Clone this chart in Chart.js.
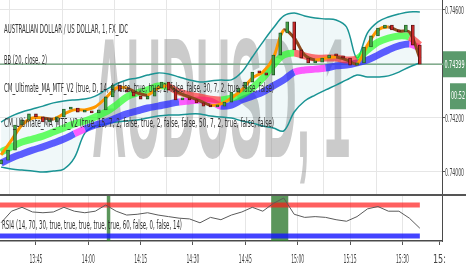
<!DOCTYPE html>
<html>
<head>
<meta charset="utf-8">
<script src="https://cdn.jsdelivr.net/npm/chart.js@4.4.0/dist/chart.umd.min.js"></script>
<style>
    html, body { margin: 0; padding: 0; background: #fff; overflow: hidden; }
    #wrap { position: relative; width: 466px; height: 275px; }
    #mainBox { position: absolute; left: 0; top: 0; width: 466px; height: 194px; }
    #rsiBox { position: absolute; left: 0; top: 194px; width: 466px; height: 81px; }
</style>
</head>
<body>
<div id="wrap">
    <div id="mainBox"><canvas id="mainCanvas"></canvas></div>
    <div id="rsiBox"><canvas id="rsiCanvas"></canvas></div>
</div>
<script>
// Time grid, minutes after 13:00
const bandMinutes = [35, 38, 41, 44, 47, 50, 53, 56, 59, 62, 65, 68, 71, 74, 77, 80, 83, 86, 89, 92,
    95, 98, 101, 104, 107, 110, 113, 116, 119, 122, 125, 128, 131, 134, 137, 140, 143, 146, 149, 152, 155];
const candleMinutes = [35, 37, 39, 41, 43, 45, 47, 49, 51, 53, 55, 57, 59, 61, 63, 65, 67, 69, 71, 73,
    75, 77, 79, 81, 83, 85, 87, 89, 91, 93, 95, 97, 99, 101, 103, 105, 107, 109, 111, 113,
    115, 117, 119, 121, 123, 125, 127, 129, 131, 133, 135, 137, 139, 141, 143, 145, 147, 149, 151, 153, 155];

// Bollinger bands (20, close, 2)
const bbUpper = [0.74185, 0.74207, 0.74222, 0.74233, 0.74244, 0.74256, 0.74263, 0.74267, 0.74270, 0.74281,
    0.74304, 0.74326, 0.74341, 0.74348, 0.74359, 0.74367, 0.74363, 0.74352, 0.74341, 0.74333,
    0.74337, 0.74341, 0.74341, 0.74370, 0.74426, 0.74481, 0.74533, 0.74578, 0.74589, 0.74578,
    0.74570, 0.74567, 0.74563, 0.74537, 0.74422, 0.74515, 0.74556, 0.74574, 0.74585, 0.74593, 0.74593];
const bbLower = [0.74018, 0.74011, 0.74007, 0.74004, 0.74000, 0.74004, 0.74011, 0.74052, 0.74144, 0.74170,
    0.74178, 0.74185, 0.74189, 0.74193, 0.74200, 0.74207, 0.74211, 0.74211, 0.74215, 0.74215,
    0.74207, 0.74204, 0.74200, 0.74189, 0.74181, 0.74170, 0.74163, 0.74152, 0.74222, 0.74263,
    0.74285, 0.74304, 0.74322, 0.74341, 0.74359, 0.74352, 0.74352, 0.74356, 0.74370, 0.74389, 0.74404];

// Moving averages
const slowMa = [0.74033, 0.74052, 0.74067, 0.74081, 0.74093, 0.74107, 0.74122, 0.74141, 0.74159, 0.74174,
    0.74185, 0.74200, 0.74215, 0.74226, 0.74237, 0.74244, 0.74252, 0.74259, 0.74263, 0.74267,
    0.74263, 0.74244, 0.74248, 0.74267, 0.74281, 0.74296, 0.74319, 0.74341, 0.74370, 0.74378,
    0.74381, 0.74385, 0.74393, 0.74396, 0.74404, 0.74415, 0.74433, 0.74452, 0.74467, 0.74474, 0.74459];
const midMa = [0.74074, 0.74093, 0.74111, 0.74122, 0.74133, 0.74148, 0.74163, 0.74178, 0.74189, 0.74204,
    0.74222, 0.74248, 0.74278, 0.74293, 0.74304, 0.74319, 0.74315, 0.74296, 0.74285, 0.74278,
    0.74270, 0.74267, 0.74274, 0.74285, 0.74311, 0.74348, 0.74396, 0.74433, 0.74441, 0.74430,
    0.74422, 0.74422, 0.74422, 0.74415, 0.74419, 0.74452, 0.74481, 0.74496, 0.74504, 0.74500, 0.74470];
const fastMa = [0.74063, 0.74118, 0.74174, 0.74200, 0.74200, 0.74196, 0.74215, 0.74230, 0.74230, 0.74241,
    0.74274, 0.74311, 0.74311, 0.74293, 0.74285, 0.74311, 0.74319, 0.74293, 0.74278, 0.74263,
    0.74248, 0.74252, 0.74274, 0.74304, 0.74348, 0.74370, 0.74422, 0.74526, 0.74496, 0.74433,
    0.74415, 0.74422, 0.74426, 0.74415, 0.74400, 0.74470, 0.74526, 0.74537, 0.74522, 0.74519, 0.74422];

// Candle closes (open = previous close)
const openingPrice = 0.74030;
const closes = [0.74044, 0.74081, 0.74174, 0.74193, 0.74215, 0.74204, 0.74185, 0.74185, 0.74204, 0.74233,
    0.74237, 0.74222, 0.74222, 0.74219, 0.74230, 0.74278, 0.74322, 0.74300, 0.74296, 0.74281,
    0.74270, 0.74281, 0.74311, 0.74333, 0.74304, 0.74267, 0.74270, 0.74267, 0.74256, 0.74244,
    0.74241, 0.74244, 0.74259, 0.74296, 0.74311, 0.74333, 0.74370, 0.74367, 0.74359, 0.74433,
    0.74515, 0.74556, 0.74452, 0.74422, 0.74404, 0.74407, 0.74422, 0.74433, 0.74430, 0.74422,
    0.74396, 0.74404, 0.74463, 0.74504, 0.74533, 0.74544, 0.74526, 0.74519, 0.74544, 0.74470, 0.74399];
const lastPrice = 0.74399;
const countdown = "00:52";

// RSI pane
const rsiValues = [47, 62, 67, 61, 60, 61, 67, 62, 60, 62, 70, 62, 57, 58, 60, 57, 55, 53, 52, 47,
    54, 51, 57, 61, 67, 62, 72, 79, 58, 54, 55, 54, 51, 49, 55, 65, 68, 62, 62, 53, 40];
const rsiUpper = 70;
const rsiLower = 30;
const rsiHighlights = [[65.3, 66.3], [112.4, 117.3]];

// Colour change periods of the two slow MAs (minutes)
const midMaDownSpans = [[83, 98], [118, 137], [151, 156]];
const slowMaAltSpans = [[56, 59], [86, 98], [117, 127], [151, 156]];

// Axes
const priceTicks = [0.740, 0.742, 0.744, 0.746];
const xTickMinutes = [45, 60, 75, 90, 105, 120, 135, 150, 160.6];
const xTickLabels = ["13:45", "14:00", "14:15", "14:30", "14:45", "15:00", "15:15", "15:30", "15:"];

const X_MIN = 34.7;
const X_MAX = 161.35;
const NARROW = "'Liberation Sans Narrow', 'DejaVu Sans Condensed', 'Liberation Sans', sans-serif";

function points(xs, ys) {
    return xs.map((x, i) => ({ x: x, y: ys[i] }));
}

function inSpans(spans, m) {
    return spans.some(s => m >= s[0] && m < s[1]);
}

/**
 * @brief Watermark, price line, legend texts and the price scale labels.
 */
const mainDecor = {
    id: "mainDecor",
    beforeDatasetsDraw(chart) {
        const { ctx, chartArea, scales } = chart;
        ctx.save();
        ctx.fillStyle = "rgba(130,130,130,0.42)";
        ctx.font = "bold 60px 'Liberation Sans', sans-serif";
        ctx.textBaseline = "alphabetic";
        ctx.translate(92, 157);
        ctx.scale(1, 2.85);
        ctx.fillText("AUDUSD, 1", 0, 0, 258);
        ctx.restore();

        const y = scales.y.getPixelForValue(lastPrice);
        ctx.save();
        ctx.strokeStyle = "#82ad8e";
        ctx.lineWidth = 1.5;
        ctx.beginPath();
        ctx.moveTo(chartArea.left, y);
        ctx.lineTo(chart.width, y);
        ctx.stroke();
        ctx.restore();
    },
    afterDraw(chart) {
        const { ctx, scales } = chart;
        ctx.save();
        ctx.textBaseline = "middle";
        ctx.fillStyle = "#333";
        ctx.font = "12px " + NARROW;
        ctx.fillText("AUSTRALIAN DOLLAR / US DOLLAR, 1, FX_IDC", 4, 30, 124);
        ctx.fillText("BB (20, close, 2)", 4, 61, 43);
        ctx.fillText("CM_Ultimate_MA_MTF_V2 (true, D, 14, 4, false, true, true, 2, false, false, 30, 7, 2, true, false, false)", 4, 89, 270);
        ctx.fillText("CM_Ultimate_MA_MTF_V2 (true, 15, 7, 2, false, true, 2, false, false, 50, 7, 2, true, false, false)", 4, 124, 270);

        // price scale labels
        ctx.fillStyle = "#444";
        ctx.font = "11px " + NARROW;
        scales.y.ticks.forEach(t => {
            const y = scales.y.getPixelForValue(t.value);
            ctx.fillText(t.value.toFixed(5), 445, y + 1, 19);
        });

        // last price and countdown boxes
        const py = scales.y.getPixelForValue(lastPrice);
        ctx.fillStyle = "#5b9a6c";
        ctx.fillRect(443, py - 13, 23, 26);
        ctx.fillRect(450, py + 19, 16, 26);
        ctx.fillStyle = "#fff";
        ctx.textAlign = "center";
        ctx.fillText(lastPrice.toFixed(5), 454.5, py + 1, 20);
        ctx.fillText(countdown, 458, py + 32, 14);
        ctx.restore();
    }
};

/**
 * @brief Highlight boxes, pane divider, time labels and RSI legend.
 */
const rsiDecor = {
    id: "rsiDecor",
    beforeDatasetsDraw(chart) {
        const { ctx, chartArea, scales } = chart;
        ctx.save();
        ctx.fillStyle = "rgba(45,120,45,0.78)";
        rsiHighlights.forEach(h => {
            const x0 = scales.x.getPixelForValue(h[0]);
            const x1 = scales.x.getPixelForValue(h[1]);
            ctx.fillRect(x0, chartArea.top, x1 - x0, chartArea.bottom - chartArea.top);
        });
        ctx.restore();
    },
    afterDraw(chart) {
        const { ctx, scales } = chart;
        ctx.save();
        ctx.fillStyle = "#555";
        ctx.fillRect(0, 0, chart.width, 2);

        ctx.fillStyle = "#444";
        ctx.font = "12px " + NARROW;
        ctx.textAlign = "center";
        ctx.textBaseline = "middle";
        scales.x.ticks.forEach((t, i) => {
            ctx.fillText(xTickLabels[i], scales.x.getPixelForValue(t.value), 66, 13);
        });

        ctx.textAlign = "left";
        ctx.fillStyle = "#333";
        ctx.fillText("RSI4 (14, 70, 30, true, true, true, true, true, 60, false, 0, false, 14)", 2, 32, 180);
        ctx.restore();
    }
};

function gridColor(c) {
    return c.tick && c.tick.value > 155 ? "rgba(0,0,0,0)" : "#e6e6e6";
}

const candleData = candleMinutes.map((m, i) => ({
    x: m,
    y: [i ? closes[i - 1] : openingPrice, closes[i]]
}));

function candleColor(up, down) {
    return c => {
        const r = c.raw;
        if (!r) return down;
        return r.y[1] >= r.y[0] ? up : down;
    };
}

const mainChart = new Chart(document.getElementById("mainCanvas").getContext("2d"), {
    type: "line",
    data: {
        datasets: [
            {
                type: "bar",
                data: candleData,
                backgroundColor: candleColor("#43a047", "#c62828"),
                borderColor: candleColor("#1e4d20", "#4a1010"),
                borderWidth: 0.8,
                borderSkipped: false,
                barThickness: 3,
                minBarLength: 2,
                order: 0
            },
            {
                data: points(bandMinutes, fastMa),
                borderWidth: 3,
                borderColor: "#ff9800",
                segment: {
                    borderColor: c => c.p1.parsed.y < c.p0.parsed.y ? "#8e4a1e" : "#ff9800"
                },
                pointRadius: 0,
                tension: 0.3,
                order: 1
            },
            {
                data: points(bandMinutes, midMa),
                borderWidth: 7,
                borderColor: "rgba(40,255,40,0.7)",
                segment: {
                    borderColor: c => inSpans(midMaDownSpans, c.p0.parsed.x) ? "rgba(255,40,40,0.65)" : "rgba(40,255,40,0.7)"
                },
                pointRadius: 0,
                tension: 0.35,
                order: 2
            },
            {
                data: points(bandMinutes, slowMa),
                borderWidth: 7,
                borderColor: "rgba(40,40,255,0.75)",
                segment: {
                    borderColor: c => inSpans(slowMaAltSpans, c.p0.parsed.x) ? "rgba(255,40,255,0.75)" : "rgba(40,40,255,0.75)"
                },
                pointRadius: 0,
                tension: 0.35,
                order: 3
            },
            {
                data: points(bandMinutes, bbUpper),
                borderWidth: 1.5,
                borderColor: "#1a9494",
                backgroundColor: "rgba(0,140,160,0.06)",
                fill: "+1",
                pointRadius: 0,
                tension: 0.35,
                order: 4
            },
            {
                data: points(bandMinutes, bbLower),
                borderWidth: 1.5,
                borderColor: "#1a9494",
                pointRadius: 0,
                tension: 0.35,
                order: 5
            }
        ]
    },
    options: {
        animation: false,
        responsive: true,
        maintainAspectRatio: false,
        layout: { padding: 0 },
        plugins: {
            legend: { display: false },
            tooltip: { enabled: false }
        },
        scales: {
            x: {
                type: "linear",
                min: X_MIN,
                max: X_MAX,
                offset: false,
                afterBuildTicks: s => { s.ticks = xTickMinutes.map(v => ({ value: v })); },
                afterFit: s => { s.height = 0; },
                grid: { color: gridColor, drawTicks: false },
                border: { display: false },
                ticks: { display: false }
            },
            y: {
                position: "right",
                min: 0.739185,
                max: 0.74637,
                afterBuildTicks: s => { s.ticks = priceTicks.map(v => ({ value: v })); },
                afterFit: s => { s.width = 24; },
                grid: { color: "#e6e6e6", drawTicks: true, tickLength: 3, tickColor: "#555" },
                border: { display: true, color: "#4a4a4a", width: 1 },
                ticks: { display: false }
            }
        }
    },
    plugins: [mainDecor]
});

const rsiChart = new Chart(document.getElementById("rsiCanvas").getContext("2d"), {
    type: "line",
    data: {
        datasets: [
            {
                data: [{ x: X_MIN, y: rsiUpper }, { x: bandMinutes[bandMinutes.length - 1], y: rsiUpper }],
                borderWidth: 5,
                borderColor: "rgba(255,20,20,0.68)",
                pointRadius: 0,
                order: 1
            },
            {
                data: [{ x: X_MIN, y: rsiLower }, { x: bandMinutes[bandMinutes.length - 1], y: rsiLower }],
                borderWidth: 5,
                borderColor: "rgba(20,20,255,0.8)",
                pointRadius: 0,
                order: 2
            },
            {
                data: points(bandMinutes, rsiValues),
                borderWidth: 1,
                borderColor: "#5a5a5a",
                pointRadius: 0,
                tension: 0,
                order: 0
            }
        ]
    },
    options: {
        animation: false,
        responsive: true,
        maintainAspectRatio: false,
        layout: { padding: 0 },
        plugins: {
            legend: { display: false },
            tooltip: { enabled: false }
        },
        scales: {
            x: {
                type: "linear",
                min: X_MIN,
                max: X_MAX,
                offset: false,
                afterBuildTicks: s => { s.ticks = xTickMinutes.map(v => ({ value: v })); },
                afterFit: s => { s.height = 34; },
                grid: { color: gridColor, drawTicks: true, tickLength: 4, tickColor: "#555" },
                border: { display: true, color: "#4a4a4a", width: 1.5 },
                ticks: { display: false }
            },
            y: {
                position: "right",
                min: 23.5,
                max: 84.2,
                afterFit: s => { s.width = 24; },
                grid: { display: false },
                border: { display: true, color: "#4a4a4a", width: 1 },
                ticks: { display: false }
            }
        }
    },
    plugins: [rsiDecor]
});
</script>
</body>
</html>
